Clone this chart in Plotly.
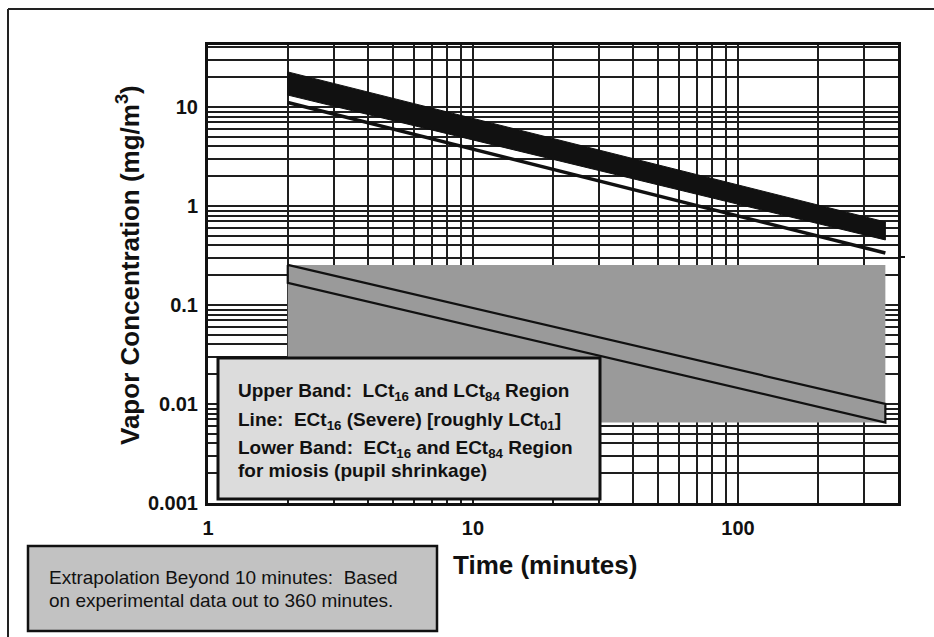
import plotly.graph_objects as go

# ---------------- data ----------------
time_ends = [2, 360]                      # minutes, start/end of all bands
upper_band_top = [22.6, 0.69]             # LCt16/LCt84 band (upper edge)
upper_band_bottom = [13.2, 0.454]         # LCt16/LCt84 band (lower edge)
ect16_severe = [11.1, 0.335]              # ECt16 (severe) line
lower_band_top = [0.254, 0.0100]          # ECt16/ECt84 miosis band, upper edge
lower_band_bottom = [0.167, 0.0065]       # ECt16/ECt84 miosis band, lower edge
shade_y = [0.0065, 0.254]                 # vertical extent of extrapolation shading

x_major = [1, 10, 100]
x_major_labels = ["1", "10", "100"]
x_minor = [2, 3, 4, 5, 6, 7, 8, 9, 20, 30, 40, 50, 60, 70, 80, 90, 200, 300, 400]
y_major = [0.001, 0.01, 0.1, 1, 10]
y_major_labels = ["0.001", "0.01", "0.1", "1", "10"]
y_minor = [k * 10 ** e for e in (-3, -2, -1, 0, 1) for k in range(2, 10)]

legend_lines = [
    "Upper Band:  LCt<sub>16</sub> and LCt<sub>84</sub> Region",
    "Line:  ECt<sub>16</sub> (Severe) [roughly LCt<sub>01</sub>]",
    "Lower Band:  ECt<sub>16</sub> and ECt<sub>84</sub> Region",
    "for miosis (pupil shrinkage)",
]
note_lines = [
    "Extrapolation Beyond 10 minutes:  Based",
    "on experimental data out to 360 minutes.",
]
x_title = "Time (minutes)"
y_title = "Vapor Concentration (mg/m<sup>3</sup>)"

# ---------------- layout geometry ----------------
W, H = 934, 637
L, R, T, B = 208, 898, 45, 503
FONT = "Liberation Sans, Arial, sans-serif"


def px(xp):
    return (xp - L) / (R - L)


def py(yp):
    return (B - yp) / (B - T)


fig = go.Figure()

# extrapolation shading (gray)
fig.add_trace(go.Scatter(
    x=[time_ends[0], time_ends[1], time_ends[1], time_ends[0], time_ends[0]],
    y=[shade_y[0], shade_y[0], shade_y[1], shade_y[1], shade_y[0]],
    mode="lines", fill="toself", fillcolor="#9a9a9a",
    line=dict(width=0, color="rgba(0,0,0,0)"), hoverinfo="skip", showlegend=False))

# lower band outline
fig.add_trace(go.Scatter(
    x=[time_ends[0], time_ends[1], time_ends[1], time_ends[0], time_ends[0]],
    y=[lower_band_top[0], lower_band_top[1], lower_band_bottom[1],
       lower_band_bottom[0], lower_band_top[0]],
    mode="lines", line=dict(color="#111111", width=2.2),
    hoverinfo="skip", showlegend=False))

# upper band (black)
fig.add_trace(go.Scatter(
    x=[time_ends[0], time_ends[1], time_ends[1], time_ends[0], time_ends[0]],
    y=[upper_band_top[0], upper_band_top[1], upper_band_bottom[1],
       upper_band_bottom[0], upper_band_top[0]],
    mode="lines", fill="toself", fillcolor="#111111",
    line=dict(color="#111111", width=1), hoverinfo="skip", showlegend=False))

# ECt16 line
fig.add_trace(go.Scatter(
    x=time_ends, y=ect16_severe, mode="lines",
    line=dict(color="#111111", width=3.5), hoverinfo="skip", showlegend=False))

grid_col = "#1e1e1e"
axis_common = dict(
    type="log", showline=True, linewidth=3, linecolor="#111111", mirror=True,
    showgrid=True, gridcolor=grid_col, gridwidth=1.5, ticks="", zeroline=False,
    tickfont=dict(family=FONT, size=20, color="#111111"),
)

fig.update_xaxes(
    **axis_common, range=[0, 2.604], tickmode="array", tickvals=x_major,
    ticktext=["<b>%s</b>" % t for t in x_major_labels], ticklabelstandoff=5,
    minor=dict(tickmode="array", tickvals=x_minor, showgrid=True,
               gridcolor=grid_col, gridwidth=1.5, ticks=""),
)
fig.update_yaxes(
    **axis_common, range=[-3, 1.626], tickmode="array", tickvals=y_major,
    ticktext=["<b>%s</b>" % t for t in y_major_labels], ticklabelstandoff=3,
    minor=dict(tickmode="array", tickvals=y_minor, showgrid=True,
               gridcolor=grid_col, gridwidth=1.5, ticks=""),
)

shapes = [
    # page frame lines
    dict(type="line", xref="paper", yref="paper", x0=px(8), x1=px(940),
         y0=py(9), y1=py(9), line=dict(color="#222222", width=2)),
    dict(type="line", xref="paper", yref="paper", x0=px(8), x1=px(8),
         y0=py(9), y1=py(645), line=dict(color="#222222", width=2)),
    # small stray tick right of the frame
    dict(type="line", xref="paper", yref="paper", x0=px(898), x1=px(905),
         y0=py(257), y1=py(257), line=dict(color="#111111", width=2)),
    # legend box
    dict(type="rect", xref="paper", yref="paper", x0=px(218), x1=px(600),
         y0=py(499), y1=py(358), fillcolor="#dcdcdc",
         line=dict(color="#111111", width=3), layer="above"),
    # note box
    dict(type="rect", xref="paper", yref="paper", x0=px(28), x1=px(437),
         y0=py(631), y1=py(546), fillcolor="#c2c2c2",
         line=dict(color="#111111", width=2.5), layer="above"),
]

annotations = []
for txt, yp in zip(legend_lines, [392, 421, 449, 470]):
    annotations.append(dict(
        text="<b>%s</b>" % txt, xref="paper", yref="paper", x=px(236), y=py(yp),
        xanchor="left", yanchor="middle", showarrow=False,
        font=dict(family=FONT, size=19, color="#111111")))
for txt, yp in zip(note_lines, [577, 600]):
    annotations.append(dict(
        text=txt, xref="paper", yref="paper", x=px(47), y=py(yp),
        xanchor="left", yanchor="middle", showarrow=False,
        font=dict(family=FONT, size=19, color="#111111")))
annotations.append(dict(
    text="<b>%s</b>" % x_title, xref="paper", yref="paper", x=px(545), y=py(565),
    xanchor="center", yanchor="middle", showarrow=False,
    font=dict(family=FONT, size=26, color="#111111")))
annotations.append(dict(
    text="<b>%s</b>" % y_title, xref="paper", yref="paper", x=px(128), y=py(265),
    xanchor="center", yanchor="middle", showarrow=False, textangle=-90,
    font=dict(family=FONT, size=26, color="#111111")))

fig.update_layout(
    width=W, height=H, autosize=False,
    margin=dict(l=L, r=W - R, t=T, b=H - B, pad=0),
    paper_bgcolor="white", plot_bgcolor="white",
    showlegend=False, shapes=shapes, annotations=annotations,
    font=dict(family=FONT, color="#111111"),
)

fig.write_html(
    "out.html", config={"displayModeBar": False},
    post_script="document.body.style.margin='0';document.body.style.overflow='hidden';",
)
